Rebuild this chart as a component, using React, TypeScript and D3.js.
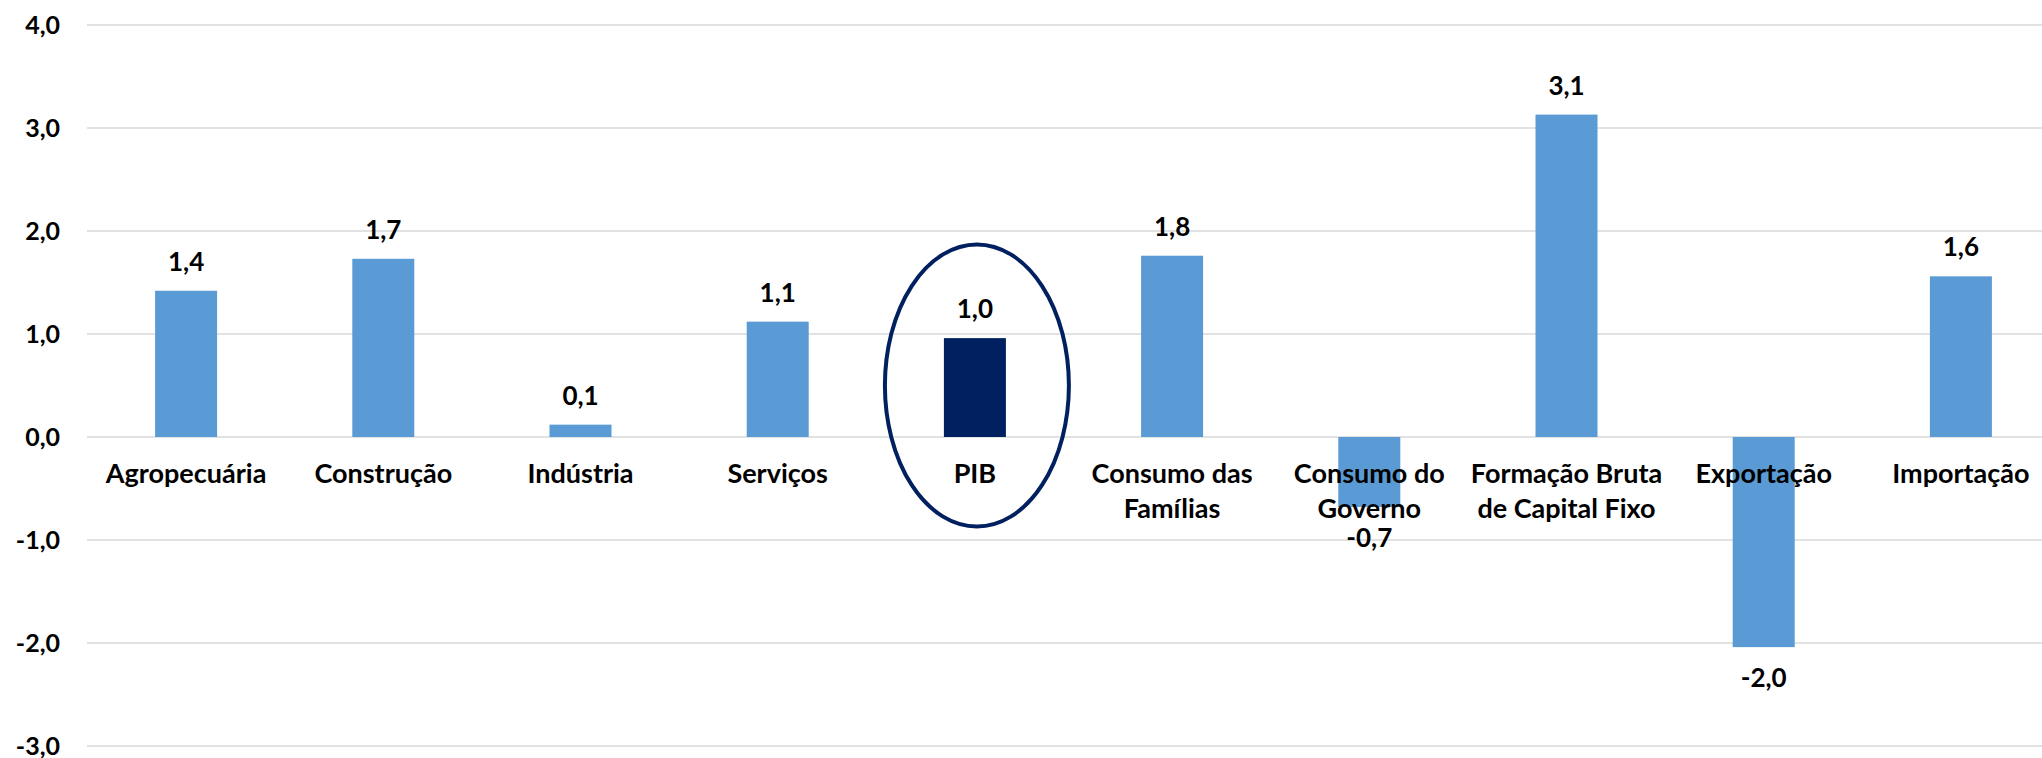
import React from "react";
import * as d3 from "d3";

const categories: string[][] = [
  ["Agropecuária"],
  ["Construção"],
  ["Indústria"],
  ["Serviços"],
  ["PIB"],
  ["Consumo das", "Famílias"],
  ["Consumo do", "Governo"],
  ["Formação Bruta", "de Capital Fixo"],
  ["Exportação"],
  ["Importação"],
];
const values: number[] = [1.42, 1.73, 0.12, 1.12, 0.96, 1.76, -0.68, 3.13, -2.04, 1.56];
const highlighted = "PIB";
const yTicks: number[] = [-3, -2, -1, 0, 1, 2, 3, 4];

const W = 2042;
const H = 758;
const FONT = "Lato, 'Open Sans', sans-serif";

export default function App() {
  const keys = categories.map((c) => c.join(" "));
  const x = d3.scaleBand<string>().domain(keys).range([87.5, 2059.5]).padding(0);
  const y = d3.scaleLinear().domain([-3, 4]).range([746, 25]);
  const barW = 62;
  const fmt = (v: number) => d3.format(".1f")(v).replace(".", ",").replace("−", "-");
  const pibCx = (x(highlighted) ?? 0) + x.bandwidth() / 2 + 2;

  return (
    <div style={{ position: "absolute", left: 0, top: 0 }}>
      <svg width={W} height={H} style={{ display: "block", background: "#fff" }}>
        {yTicks.map((t) => (
          <g key={t}>
            <line x1={87} x2={W} y1={y(t)} y2={y(t)} stroke="#D9D9D9" strokeWidth={1.5} />
            <text
              x={60}
              y={y(t)}
              dy="0.35em"
              textAnchor="end"
              fontFamily={FONT}
              fontWeight={700}
              fontSize={25}
              fill="#000"
            >
              {fmt(t)}
            </text>
          </g>
        ))}
        {keys.map((k, i) => {
          const v = values[i];
          const cx = (x(k) ?? 0) + x.bandwidth() / 2;
          const y0 = y(0);
          const y1 = y(v);
          return (
            <g key={k}>
              <rect
                x={cx - barW / 2}
                y={Math.min(y0, y1)}
                width={barW}
                height={Math.abs(y1 - y0)}
                fill={k === highlighted ? "#002060" : "#5B9BD5"}
              />
            </g>
          );
        })}
        {keys.map((k, i) => {
          const cx = (x(k) ?? 0) + x.bandwidth() / 2;
          return (
            <text
              key={"c" + k}
              x={cx}
              y={y(0) + 46}
              textAnchor="middle"
              fontFamily={FONT}
              fontWeight={700}
              fontSize={27}
              fill="#000"
            >
              {categories[i].map((line, j) => (
                <tspan key={j} x={cx} dy={j === 0 ? 0 : 35}>
                  {line}
                </tspan>
              ))}
            </text>
          );
        })}
        {keys.map((k, i) => {
          const v = values[i];
          const cx = (x(k) ?? 0) + x.bandwidth() / 2;
          const ly = v >= 0 ? y(v) - 20 : y(v) + 40;
          return (
            <text
              key={"l" + k}
              x={cx}
              y={ly}
              textAnchor="middle"
              fontFamily={FONT}
              fontWeight={700}
              fontSize={26}
              fill="#000"
            >
              {fmt(v)}
            </text>
          );
        })}
        <ellipse
          cx={pibCx}
          cy={y(0.5)}
          rx={92}
          ry={141}
          fill="none"
          stroke="#002060"
          strokeWidth={4}
        />
      </svg>
    </div>
  );
}
